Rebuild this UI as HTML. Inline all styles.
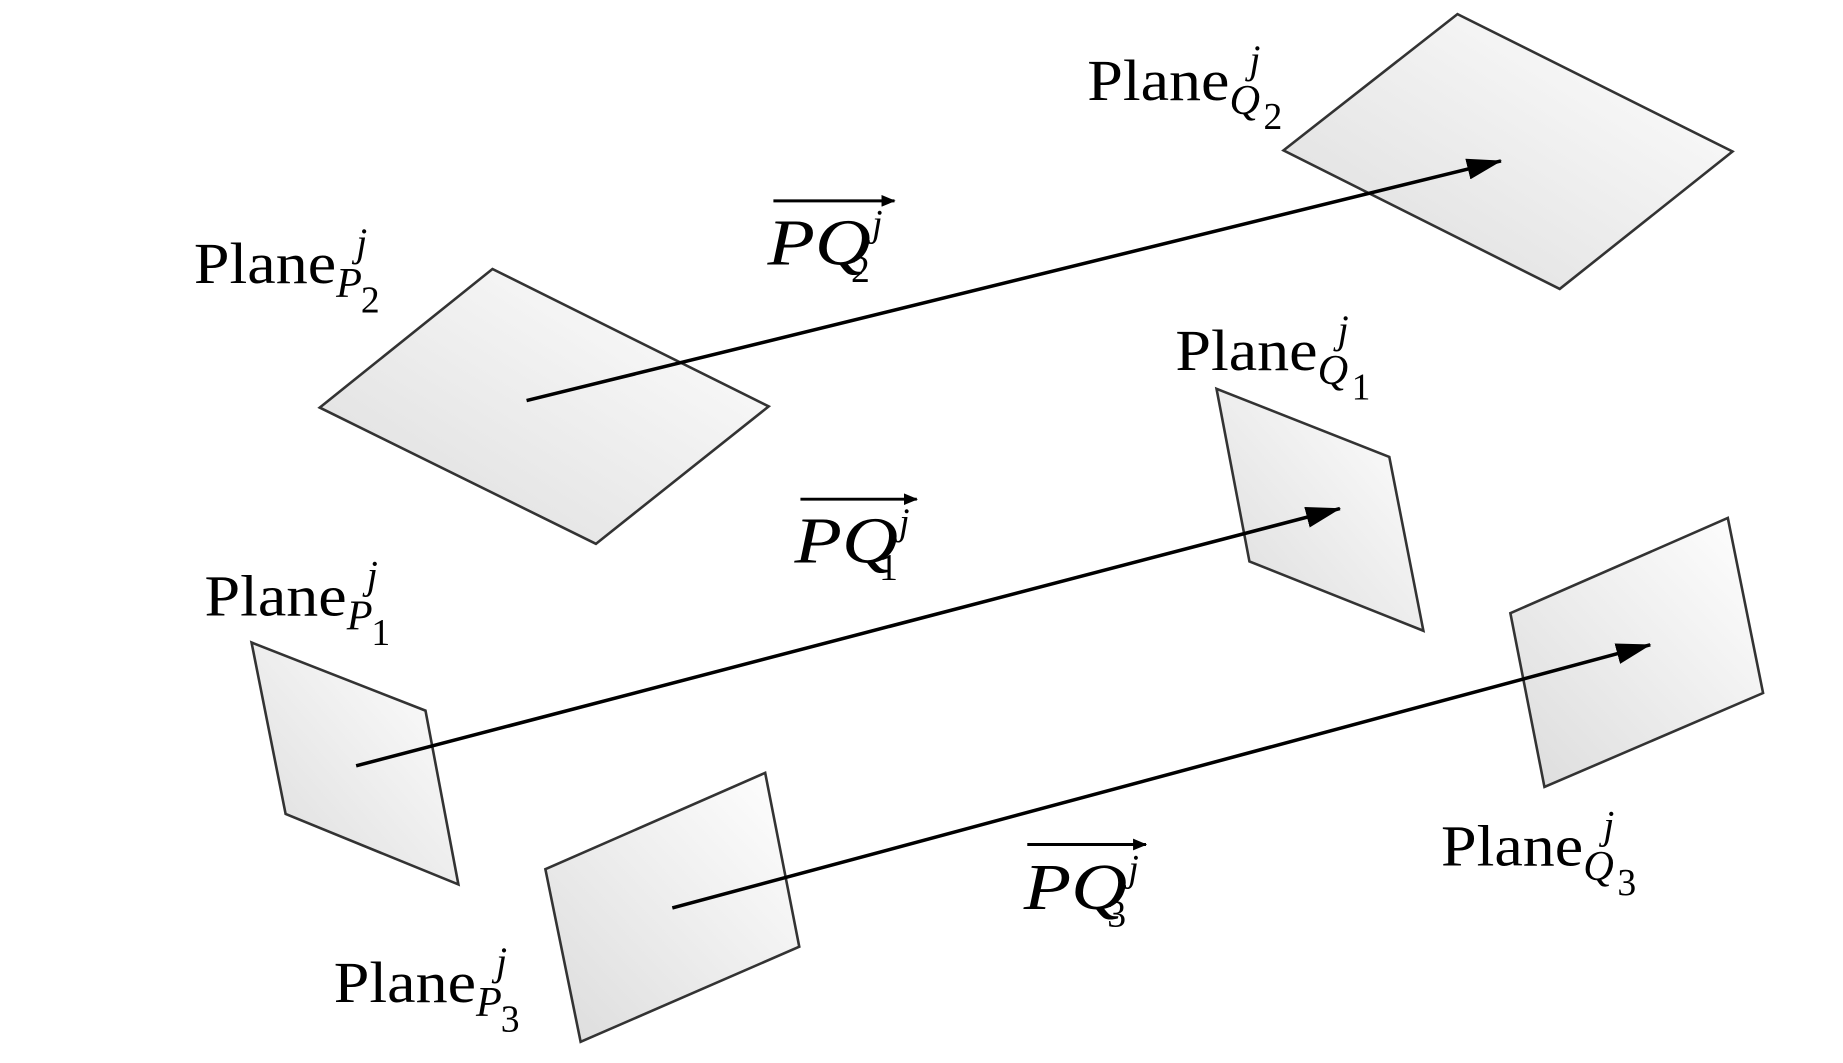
<!DOCTYPE html>
<html><head><meta charset="utf-8"><style>
html,body{margin:0;padding:0;background:#fff;}
svg{display:block}
text{font-family:"Liberation Serif",serif;fill:#000}
</style></head><body>
<svg width="1843" height="1063" viewBox="0 0 1568 905" preserveAspectRatio="none" xmlns="http://www.w3.org/2000/svg">
<defs>
<linearGradient id="g" x1="0" y1="1" x2="1" y2="0">
<stop offset="0" stop-color="#dcdcdc"/><stop offset="1" stop-color="#ffffff"/>
</linearGradient>
<marker id="a" markerWidth="12" markerHeight="10" refX="11" refY="5" orient="auto" markerUnits="userSpaceOnUse" viewBox="0 0 12 10">
<path d="M0,0 L12,5 L0,10 Z" fill="#000"/></marker>
<marker id="b" markerWidth="30" markerHeight="18" refX="29" refY="9" orient="auto" markerUnits="userSpaceOnUse" viewBox="0 0 30 18">
<path d="M0,0 L30,9 L0,18 Z" fill="#000"/></marker>
</defs>
<g fill="url(#g)" stroke="#333" stroke-width="2.2">
<polygon points="1092,128 1240,12 1474,129 1327,246"/>
<polygon points="272,347 419,229 654,346 507,463"/>
<polygon points="1035,331 1182,389 1211,537 1063,478"/>
<polygon points="214,547 362,605 390,753 243,693"/>
<polygon points="464,740 651,658 680,806 494,887"/>
<polygon points="1285,522 1470,441 1500,590 1314,670"/>
</g>
<g stroke="#000" stroke-width="3">
<line x1="448" y1="341" x2="1277" y2="137" marker-end="url(#b)"/>
<line x1="303" y1="652" x2="1140" y2="433" marker-end="url(#b)"/>
<line x1="572" y1="773" x2="1404" y2="549" marker-end="url(#b)"/>
</g>
<g font-size="50">
<text x="925" y="85" textLength="121" lengthAdjust="spacingAndGlyphs">Plane</text>
<text x="165" y="241" textLength="121" lengthAdjust="spacingAndGlyphs">Plane</text>
<text x="1000" y="315" textLength="121" lengthAdjust="spacingAndGlyphs">Plane</text>
<text x="174" y="524" textLength="121" lengthAdjust="spacingAndGlyphs">Plane</text>
<text x="1226" y="737" textLength="121" lengthAdjust="spacingAndGlyphs">Plane</text>
<text x="284" y="853" textLength="121" lengthAdjust="spacingAndGlyphs">Plane</text>
</g>
<g font-size="34" font-style="italic">
<text x="1063" y="62">j</text>
<text x="303" y="218">j</text>
<text x="1138" y="292">j</text>
<text x="312" y="501">j</text>
<text x="1364" y="714">j</text>
<text x="422" y="830">j</text>
</g>
<g font-size="36" font-style="italic">
<text x="1046" y="97">Q</text>
<text x="286" y="253">P</text>
<text x="1121" y="327">Q</text>
<text x="295" y="536">P</text>
<text x="1347" y="749">Q</text>
<text x="405" y="865">P</text>
</g>
<g font-size="32">
<text x="1075" y="110">2</text>
<text x="307" y="266">2</text>
<text x="1150" y="340">1</text>
<text x="316" y="549">1</text>
<text x="1376" y="762">3</text>
<text x="426" y="878">3</text>
</g>
<g font-size="56" font-style="italic">
<text x="653" y="225" textLength="88" lengthAdjust="spacingAndGlyphs">PQ</text>
<text x="676" y="479" textLength="88" lengthAdjust="spacingAndGlyphs">PQ</text>
<text x="871" y="774" textLength="88" lengthAdjust="spacingAndGlyphs">PQ</text>
</g>
<g font-size="32" font-style="italic">
<text x="742" y="201">j</text>
<text x="765" y="455">j</text>
<text x="960" y="750">j</text>
</g>
<g font-size="32">
<text x="724" y="240">2</text>
<text x="748" y="494">1</text>
<text x="942" y="789">3</text>
</g>
<g stroke="#000" stroke-width="2.5">
<line x1="658" y1="171" x2="761" y2="171" marker-end="url(#a)"/>
<line x1="681" y1="425" x2="780" y2="425" marker-end="url(#a)"/>
<line x1="874" y1="719" x2="975" y2="719" marker-end="url(#a)"/>
</g>
</svg>
</body></html>
